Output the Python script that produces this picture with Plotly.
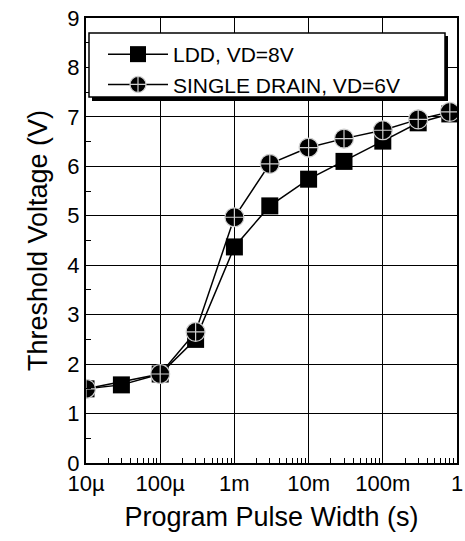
import plotly.graph_objects as go

# ---- data ----
pulse_ldd = [1e-5, 3e-5, 1e-4, 3e-4, 1e-3, 3e-3, 1e-2, 3e-2, 1e-1, 3e-1, 0.8]
vt_ldd = [1.50, 1.58, 1.80, 2.50, 4.37, 5.20, 5.74, 6.10, 6.51, 6.88, 7.06]

pulse_sd = [1e-5, 1e-4, 3e-4, 1e-3, 3e-3, 1e-2, 3e-2, 1e-1, 3e-1, 0.8]
vt_sd = [1.50, 1.80, 2.65, 4.97, 6.05, 6.38, 6.56, 6.73, 6.95, 7.10]

x_tickvals = [1e-5, 1e-4, 1e-3, 1e-2, 1e-1, 1]
x_ticktext = ["10\u00b5", "100\u00b5", "1m", "10m", "100m", "1"]

name_ldd = "LDD, VD=8V"
name_sd = "SINGLE DRAIN, VD=6V"

FONT = "Arial, Liberation Sans, sans-serif"

# minor tick positions on the log axis: 2..9 in every decade
x_minor = [m * d for d in x_tickvals[:-1] for m in range(2, 10)]

fig = go.Figure()
fig.add_trace(go.Scatter(
    x=pulse_ldd, y=vt_ldd, name=name_ldd, mode="lines+markers",
    line=dict(color="black", width=1.5),
    marker=dict(symbol="square", size=17, color="black",
                line=dict(color="black", width=0)),
))
fig.add_trace(go.Scatter(
    x=pulse_sd, y=vt_sd, name=name_sd, mode="lines+markers",
    line=dict(color="black", width=1.5),
    marker=dict(symbol="circle-cross", size=19, color="black",
                line=dict(color="#cfcfcf", width=1.2)),
))

# plot area in pixels: left 86, right 457, top 18, bottom 463
L, R, T, B = 86, 457, 18, 463
W, H = R - L, B - T


def px(xp):
    return (xp - L) / W


def py(yp):
    return (B - yp) / H


# legend box with shadow
fig.add_shape(type="rect", xref="paper", yref="paper",
              x0=px(92), x1=px(448), y0=py(101), y1=py(36),
              fillcolor="black", line=dict(width=0), layer="above")
fig.add_shape(type="rect", xref="paper", yref="paper",
              x0=px(89), x1=px(445), y0=py(97), y1=py(33),
              fillcolor="white", line=dict(color="black", width=1.5),
              layer="above")

axis_common = dict(
    showgrid=True, gridcolor="black", gridwidth=1.3,
    showline=True, linecolor="black", linewidth=2, mirror=True,
    zeroline=False, automargin=False,
    ticks="inside", ticklen=5, tickcolor="black", tickwidth=1.3,
)

fig.update_layout(
    width=465, height=541,
    margin=dict(l=L, r=465 - R, t=T, b=541 - B, autoexpand=False),
    paper_bgcolor="white", plot_bgcolor="white",
    font=dict(family=FONT, color="black"),
    showlegend=True,
    legend=dict(x=px(103), y=py(34), xanchor="left", yanchor="top",
                bgcolor="rgba(0,0,0,0)", borderwidth=0,
                font=dict(size=21, family=FONT, color="black"),
                itemwidth=60, tracegroupgap=0),
    xaxis=dict(
        type="log", range=[-5, 0],
        tickvals=x_tickvals, ticktext=x_ticktext,
        tickfont=dict(size=22),
        minor=dict(tickmode="array", tickvals=x_minor, ticks="inside",
                   ticklen=5, tickcolor="black", tickwidth=1.2,
                   showgrid=False),
        title=dict(text="Program Pulse Width (s)", font=dict(size=27),
                   standoff=12),
        **axis_common,
    ),
    yaxis=dict(
        range=[0, 9], tick0=0, dtick=1,
        tickfont=dict(size=22),
        minor=dict(tick0=0, dtick=0.5, ticks="inside", ticklen=5,
                   tickcolor="black", tickwidth=1.2, showgrid=False),
        title=dict(text="Threshold Voltage (V)", font=dict(size=27),
                   standoff=12),
        **axis_common,
    ),
)

fig.write_html("out.html",
               config={"displayModeBar": False},
               post_script="document.body.style.margin='0';"
                           "document.body.style.overflow='hidden';")
